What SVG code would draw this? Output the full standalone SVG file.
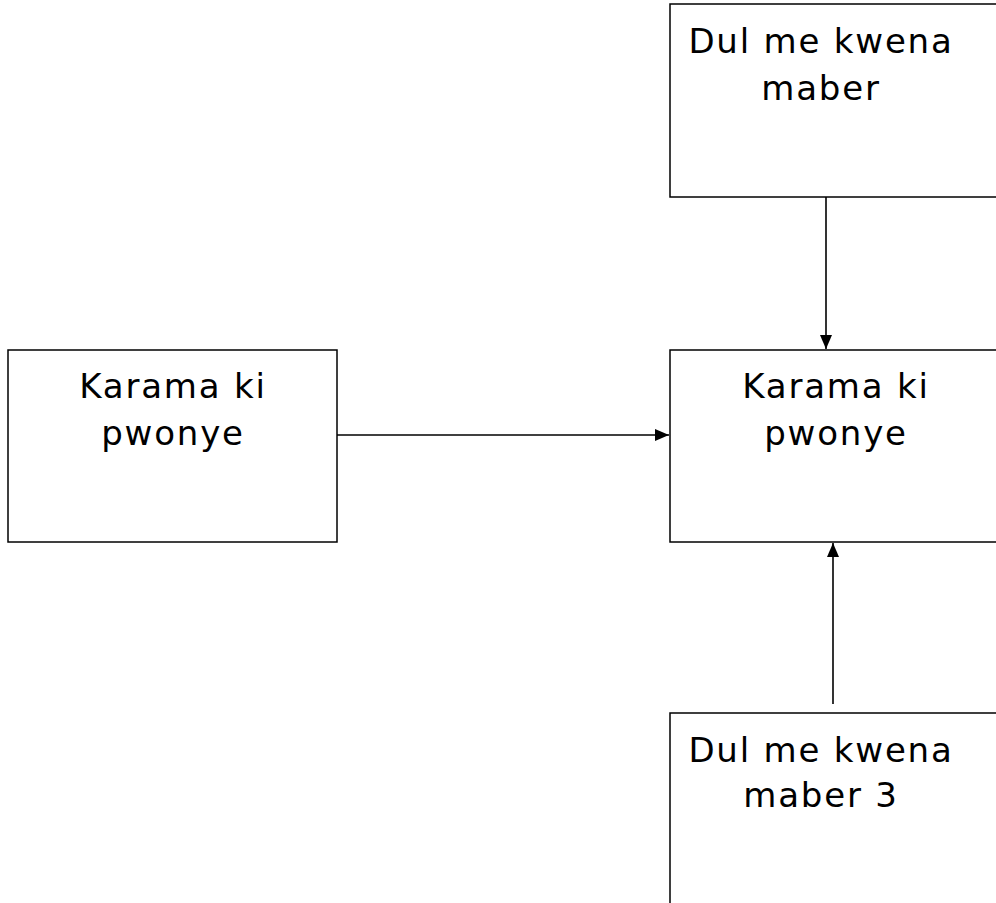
<svg xmlns="http://www.w3.org/2000/svg" width="996" height="903" viewBox="0 0 996 903">
<style>
.box{fill:#fff;stroke:#000;stroke-width:1.5}
.lbl{font-family:"DejaVu Sans","Liberation Sans",sans-serif;font-size:34px;letter-spacing:1.8px;fill:#000;text-anchor:middle}
.con{stroke:#000;stroke-width:1.6;fill:none}
</style>
<defs>
<marker id="ah" markerWidth="14" markerHeight="12" refX="14" refY="6" orient="auto" markerUnits="userSpaceOnUse" viewBox="0 0 14 12">
<path d="M0,0 L14,6 L0,12 Z" fill="#000"/>
</marker>
</defs>
<rect width="996" height="903" fill="#fff"/>
<g id="node-top">
<rect class="box" x="670" y="4" width="340" height="193"/>
<text class="lbl" x="821" y="53">Dul me kwena</text>
<text class="lbl" x="821" y="100">maber</text>
</g>
<g id="node-left">
<rect class="box" x="8" y="350" width="329" height="192"/>
<text class="lbl" x="173" y="398">Karama ki</text>
<text class="lbl" x="173" y="445">pwonye</text>
</g>
<g id="node-center">
<rect class="box" x="670" y="350" width="340" height="192"/>
<text class="lbl" x="836" y="398">Karama ki</text>
<text class="lbl" x="836" y="445">pwonye</text>
</g>
<g id="node-bottom">
<rect class="box" x="670" y="713" width="340" height="200"/>
<text class="lbl" x="821" y="762">Dul me kwena</text>
<text class="lbl" x="821" y="807">maber 3</text>
</g>
<g id="connectors">
<line class="con" x1="826" y1="197" x2="826" y2="349" marker-end="url(#ah)"/>
<line class="con" x1="337" y1="435" x2="669" y2="435" marker-end="url(#ah)"/>
<line class="con" x1="833" y1="704" x2="833" y2="543" marker-end="url(#ah)"/>
</g>
</svg>
